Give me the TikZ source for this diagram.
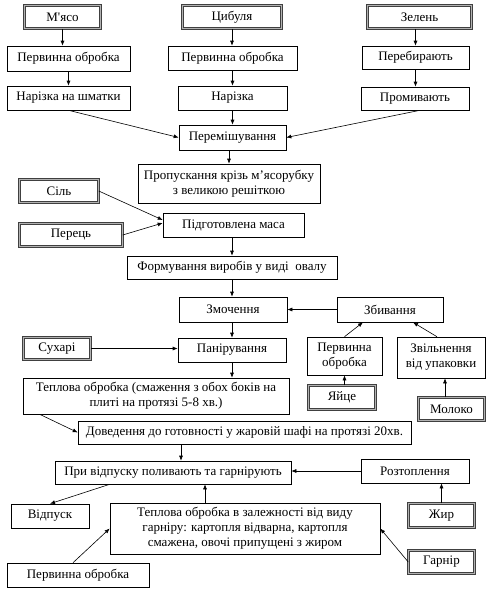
\documentclass[tikz,border=0pt]{standalone}
\usepackage{fontspec}
\setmainfont{Liberation Serif}
\usetikzlibrary{arrows.meta}
\begin{document}
\begin{tikzpicture}[x=1pt,y=-1pt,
  box/.style={draw, line width=0.6pt, fill=white, inner sep=0pt, align=center,
    font=\fontsize{13}{15}\selectfont},
  dbox/.style={box, draw=black!75, line width=0.5pt, double=gray!60, double distance=1.6pt},
  arr/.style={line width=0.6pt, -{Latex[length=5pt,width=4pt]}}]
\useasboundingbox (0,0) rectangle (490,590);
% top row
\node[dbox, minimum width=76pt, minimum height=23pt] (meat) at (62.5,17) {М\textquotesingle ясо};
\node[box, minimum width=123pt, minimum height=25pt] (p1) at (68.5,58.5) {Первинна обробка};
\node[box, minimum width=123pt, minimum height=24pt] (n1) at (68.5,98) {Нарізка на шматки};
\node[dbox, minimum width=99pt, minimum height=23pt] (onion) at (232,17) {Цибуля};
\node[box, minimum width=129pt, minimum height=24pt] (p2) at (232.5,58) {Первинна обробка};
\node[box, minimum width=109pt, minimum height=24pt] (n2) at (232.5,98) {Нарізка};
\node[dbox, minimum width=104pt, minimum height=23pt] (greens) at (419.5,17) {Зелень};
\node[box, minimum width=107pt, minimum height=23pt] (pereb) at (415.5,57.5) {Перебирають};
\node[box, minimum width=108pt, minimum height=23pt] (promy) at (415,98.5) {Промивають};
\node[box, minimum width=107pt, minimum height=25pt] (mix) at (232.5,137.5) {Перемішування};
\node[box, minimum width=182pt, minimum height=39pt] (mince) at (229,183.5) {Пропускання крізь м’ясорубку\\з великою решіткою};
\node[box, minimum width=141pt, minimum height=24pt] (prep) at (233.5,225) {Підготовлена маса};
\node[dbox, minimum width=79pt, minimum height=23pt] (salt) at (59,191) {Сіль};
\node[dbox, minimum width=103pt, minimum height=23pt] (pepper) at (71,235) {Перець};
\node[box, minimum width=210pt, minimum height=23pt] (form) at (232,267.5) {Формування виробів у виді\ \ овалу};
\node[box, minimum width=108pt, minimum height=25pt] (wet) at (233,309.5) {Змочення};
\node[box, minimum width=106pt, minimum height=25pt] (beat) at (390,309.5) {Збивання};
\node[box, minimum width=108pt, minimum height=24pt] (bread) at (232,350) {Панірування};
\node[dbox, minimum width=67pt, minimum height=22pt] (crumbs) at (57,348.5) {Сухарі};
\node[box, minimum width=75pt, minimum height=38pt] (eggproc) at (344.5,356) {Первинна\\обробка};
\node[box, minimum width=88pt, minimum height=41pt] (unpack) at (441,357.5) {Звільнення\\від упаковки};
\node[dbox, minimum width=67pt, minimum height=24pt] (egg) at (342,397.5) {Яйце};
\node[dbox, minimum width=66pt, minimum height=23pt] (milk) at (451.5,409) {Молоко};
\node[box, minimum width=266pt, minimum height=36pt] (fry) at (156,396) {Теплова обробка (смаження з обох боків на\\плиті на протязі 5-8 хв.)};
\node[box, minimum width=333pt, minimum height=23pt] (oven) at (244.5,432.5) {Доведення до готовності у жаровій шафі на протязі 20хв.};
\node[box, minimum width=236pt, minimum height=23pt] (serve) at (173,472.5) {При відпуску поливають та гарнірують};
\node[box, minimum width=108pt, minimum height=24pt] (melt) at (415,471) {Розтоплення};
\node[box, minimum width=78pt, minimum height=24pt] (out) at (50,516) {Відпуск};
\node[box, minimum width=270pt, minimum height=51pt] (garnproc) at (245,528.5) {Теплова обробка в залежності від виду\\гарніру: картопля відварна, картопля\\смажена, овочі припущені з жиром};
\node[dbox, minimum width=66pt, minimum height=24pt] (fat) at (441.5,515.5) {Жир};
\node[dbox, minimum width=66pt, minimum height=23pt] (garnish) at (441.5,562) {Гарнір};
\node[box, minimum width=142pt, minimum height=24pt] (p3) at (78,575) {Первинна обробка};
% connectors
\draw[arr] (meat.south) -- (meat.south |- p1.north);
\draw[arr] (p1.south) -- (n1.north);
\draw[arr] (n1.south) -- (mix.west);
\draw[arr] (onion.south) -- (onion.south |- p2.north);
\draw[arr] (p2.south) -- (n2.north);
\draw[arr] (n2.south) -- (mix.north);
\draw[arr] (pereb.north |- greens.south) -- (pereb.north);
\draw[arr] (pereb.south) -- (pereb.south |- promy.north);
\draw[arr] ([xshift=5pt]promy.south) -- (mix.east);
\draw[arr] ([xshift=-3.5pt]mix.south) -- ([xshift=-3.5pt]mix.south |- mince.north);
\draw[arr] (salt.east) -- ([yshift=5pt]prep.west);
\draw[arr] (pepper.east) -- ([yshift=2pt]prep.west);
\draw[arr] ([xshift=-1.5pt]prep.south) -- ([xshift=-1.5pt]prep.south |- form.north);
\draw[arr] (form.south) -- (form.south |- wet.north);
\draw[arr] ([xshift=-1pt]wet.south) -- ([xshift=-1pt]wet.south |- bread.north);
\draw[arr] (crumbs.east) -- (crumbs.east -| bread.west);
\draw[arr] (bread.south) -- (bread.south |- fry.north);
\draw[arr] (beat.west) -- (beat.west -| wet.east);
\draw[arr] (eggproc.north) -- ([xshift=-27pt]beat.south);
\draw[arr] ([xshift=-4pt]unpack.north) -- ([xshift=23pt]beat.south);
\draw[arr] (egg.north -| eggproc.south) -- (eggproc.south);
\draw[arr] ([xshift=4pt]unpack.south |- milk.north) -- ([xshift=4pt]unpack.south);
\draw[arr] ([xshift=17pt]fry.south west) -- (oven.west);
\draw[arr] ([xshift=8pt]serve.north |- oven.south) -- ([xshift=8pt]serve.north);
\draw[arr] (melt.west) -- (melt.west -| serve.east);
\draw[arr] (fat.north) -- (fat.north |- melt.south);
\draw[arr] ([xshift=55pt]serve.south west) -- (out.north);
\draw[arr] ([xshift=-40pt]garnproc.north) -- ([xshift=-40pt]garnproc.north |- serve.south);
\draw[arr] ([xshift=-5pt]p3.north) -- (garnproc.west);
\draw[arr] (garnish.west) -- (garnproc.east);
\end{tikzpicture}
\end{document}
